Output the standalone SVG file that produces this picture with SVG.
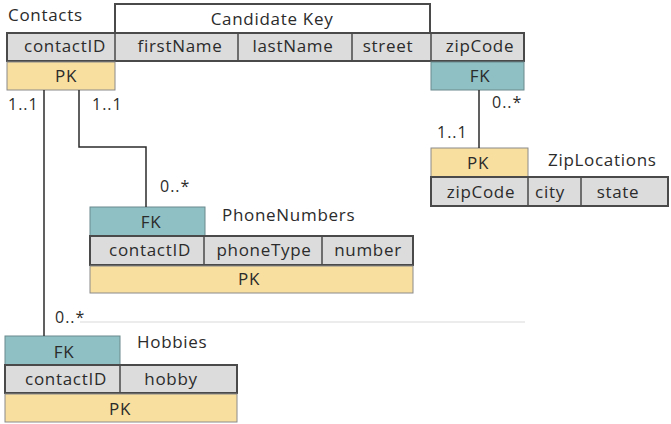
<svg xmlns="http://www.w3.org/2000/svg" width="671" height="424" viewBox="0 0 671 424">
<style>
text{font-family:"Open Sans","Liberation Sans",sans-serif;font-size:17px;fill:#2b2b2b;letter-spacing:0.7px}
.m{text-anchor:middle}
.row{fill:#dcdcdc;stroke:#4a4a4a;stroke-width:2}
.div{stroke:#4a4a4a;stroke-width:1.5}
.pk{fill:#f8df9f;stroke:#8a8a8a;stroke-width:1}
.fk{fill:#8fc0c4;stroke:#6a8a8d;stroke-width:1}
.ck{fill:#fff;stroke:#4a4a4a;stroke-width:2}
.con{fill:none;stroke:#2b2b2b;stroke-width:1.5}
.lbl{font-size:16px;letter-spacing:1px}
</style>
<rect width="671" height="424" fill="#fff"/>
<g id="contacts">
<text x="8" y="21">Contacts</text>
<rect class="ck" x="115" y="4" width="315" height="29"/>
<text class="m" x="272" y="25">Candidate Key</text>
<rect class="row" x="7" y="33" width="517" height="28"/>
<line class="div" x1="115" y1="33" x2="115" y2="61"/>
<line class="div" x1="238" y1="33" x2="238" y2="61"/>
<line class="div" x1="352" y1="33" x2="352" y2="61"/>
<line class="div" x1="431" y1="33" x2="431" y2="61"/>
<text class="m" x="65" y="52">contactID</text>
<text class="m" x="180" y="52">firstName</text>
<text class="m" x="293" y="52">lastName</text>
<text class="m" x="388" y="52">street</text>
<text class="m" x="480" y="52">zipCode</text>
<rect class="pk" x="7" y="62" width="108" height="28"/>
<text class="m" x="66" y="82">PK</text>
<rect class="fk" x="431" y="62" width="93" height="28"/>
<text class="m" x="480" y="82">FK</text>
</g>
<g id="ziplocations">
<rect class="pk" x="431" y="148" width="97" height="29"/>
<text class="m" x="478" y="169">PK</text>
<text x="548" y="166">ZipLocations</text>
<rect class="row" x="431" y="177" width="237" height="29"/>
<line class="div" x1="528" y1="177" x2="528" y2="206"/>
<line class="div" x1="581" y1="177" x2="581" y2="206"/>
<text class="m" x="481" y="198">zipCode</text>
<text class="m" x="550" y="198">city</text>
<text class="m" x="618" y="198">state</text>
</g>
<g id="phonenumbers">
<rect class="fk" x="90" y="207" width="115" height="29"/>
<text class="m" x="151" y="228">FK</text>
<text x="222" y="221">PhoneNumbers</text>
<rect class="row" x="90" y="236" width="323" height="29"/>
<line class="div" x1="204" y1="236" x2="204" y2="265"/>
<line class="div" x1="322" y1="236" x2="322" y2="265"/>
<text class="m" x="150" y="256">contactID</text>
<text class="m" x="264" y="256">phoneType</text>
<text class="m" x="368" y="256">number</text>
<rect class="pk" x="90" y="266" width="323" height="27"/>
<text class="m" x="249" y="285">PK</text>
</g>
<g id="hobbies">
<rect class="fk" x="5" y="336" width="115" height="29"/>
<text class="m" x="64" y="358">FK</text>
<text x="137" y="348">Hobbies</text>
<rect class="row" x="5" y="365" width="232" height="28"/>
<line class="div" x1="120" y1="365" x2="120" y2="393"/>
<text class="m" x="66" y="385">contactID</text>
<text class="m" x="171" y="385">hobby</text>
<rect class="pk" x="5" y="394" width="232" height="28"/>
<text class="m" x="120" y="415">PK</text>
</g>
<g id="connectors">
<polyline class="con" points="44,90 44,336"/>
<polyline class="con" points="79,90 79,147 146,147 146,207"/>
<polyline class="con" points="479,90 479,148"/>
<line x1="80" y1="322" x2="525" y2="322" stroke="#ececec" stroke-width="2"/>
<text class="lbl" x="8" y="110">1..1</text>
<text class="lbl" x="92" y="110">1..1</text>
<text class="lbl" x="492" y="108">0..*</text>
<text class="lbl" x="437" y="138">1..1</text>
<text class="lbl" x="160" y="192">0..*</text>
<text class="lbl" x="55" y="323">0..*</text>
</g>
</svg>
